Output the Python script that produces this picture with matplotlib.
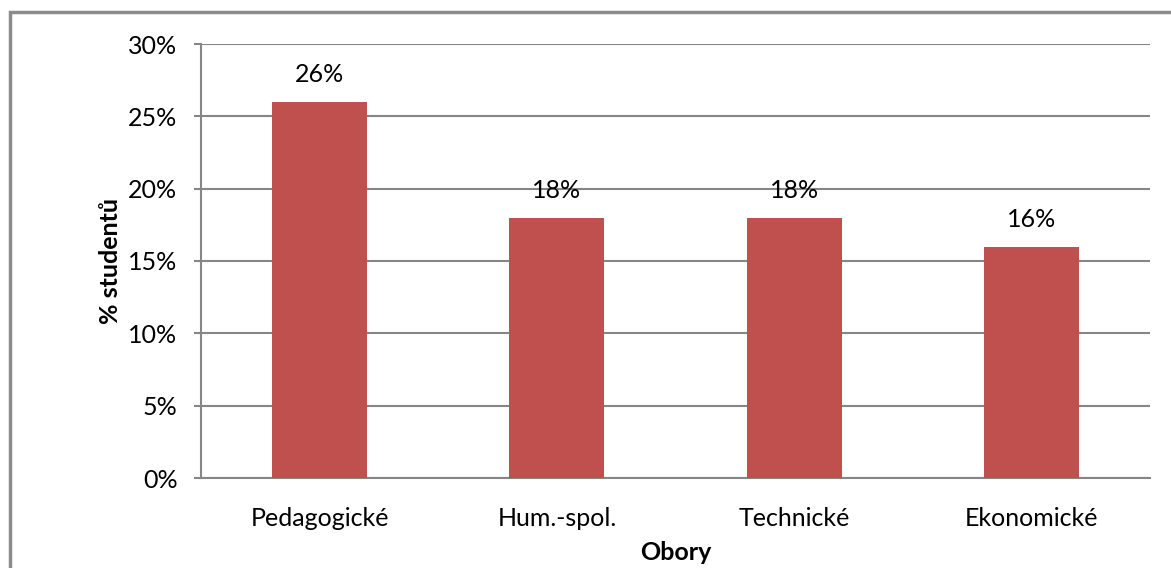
import matplotlib
matplotlib.use("Agg")
import matplotlib.pyplot as plt
from matplotlib.patches import Rectangle
from matplotlib.ticker import FuncFormatter

categories = ["Pedagogické", "Hum.-spol.", "Technické", "Ekonomické"]
values = [26, 18, 18, 16]
yticks = [0, 5, 10, 15, 20, 25, 30]

plt.rcParams['font.family'] = ['Lato', 'DejaVu Sans']

fig = plt.figure(figsize=(11.71, 5.68), dpi=100)
ax = fig.add_axes([201/1171, 1-478/568, (1150-201)/1171, (478-44)/568])

fs = 18
grid_c = "#868686"
x = range(len(categories))
ax.bar(x, values, width=0.4, color="#C0504D", zorder=3)
for xi, v in zip(x, values):
    ax.text(xi, v + 1.9, f"{v}%", ha="center", va="center", fontsize=fs, color="#000000")

ax.set_xlim(-0.5, len(categories) - 0.5)
ax.set_ylim(0, 30)
ax.set_yticks(yticks)
ax.yaxis.set_major_formatter(FuncFormatter(lambda v, p: f"{int(v)}%"))
ax.set_xticks(list(x))
ax.set_xticklabels(categories)
ax.grid(axis="y", color=grid_c, linewidth=1.5, zorder=0)
for s in ["top", "right"]:
    ax.spines[s].set_visible(False)
for s in ["left", "bottom"]:
    ax.spines[s].set_color(grid_c)
    ax.spines[s].set_linewidth(1.5)
ax.tick_params(axis="y", length=5, width=1.5, color=grid_c, labelsize=fs, pad=12)
ax.tick_params(axis="x", length=0, labelsize=fs, pad=21)
ax.set_ylabel("% studentů", fontsize=fs, fontweight="bold", va="center")
ax.yaxis.set_label_coords((110 - 201) / 949, 0.5)
ax.set_xlabel("Obory", fontsize=fs, fontweight="bold", va="center")
ax.xaxis.set_label_coords(0.5, (478 - 553) / 434)

border = Rectangle((10/1171, -0.1), 1.2, 1.1 - 12/568, transform=fig.transFigure,
                   fill=False, edgecolor="#8c8c8c", linewidth=2.5, clip_on=False)
fig.patches.append(border)

fig.savefig("out.png", dpi=100)
